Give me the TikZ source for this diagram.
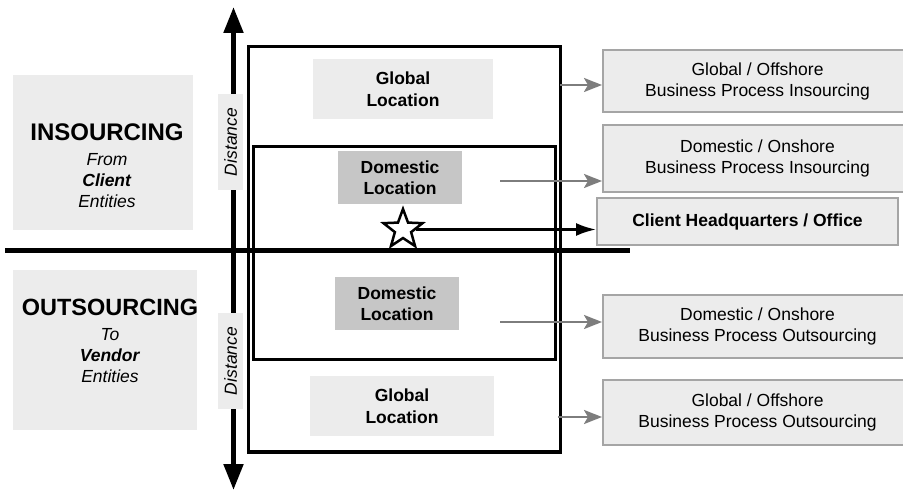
\documentclass[tikz,border=0pt]{standalone}
\usepackage{fontspec}
\setmainfont{Liberation Sans}
\usepackage{tikz}
\definecolor{mylightgray}{RGB}{236,236,236}
\definecolor{mymidgray}{RGB}{198,198,198}
\definecolor{myedgegray}{RGB}{165,165,165}
\definecolor{myarrowgray}{RGB}{125,125,125}
\usetikzlibrary{arrows.meta,shapes.geometric,positioning}

\begin{document}
\begin{tikzpicture}[
  x=1pt, y=-1pt,
  every node/.style={font=\fontsize{17.5}{21}\selectfont},
  sidebox/.style={fill=mylightgray, inner sep=0pt},
  sidetext/.style={align=center, inner sep=0pt},
  locbox/.style={draw, line width=3pt, inner sep=0pt},
  globlabel/.style={
    fill=mylightgray,
    align=center,
    font=\fontsize{17.5}{21.5}\selectfont\bfseries,
    minimum height=60pt
    },
  domlabel/.style={
    fill=mymidgray,
    align=center,
    font=\fontsize{17.5}{21}\selectfont\bfseries,
    minimum width=124pt,
    minimum height=53pt
    },
  distlabel/.style={
    fill=mylightgray,
    rotate=90,
    font=\fontsize{17.5}{21}\selectfont\itshape,
    minimum width=96pt,
    minimum height=25pt,
    inner sep=0pt
    },
  procbox/.style={
    draw=myedgegray,
    line width=2pt,
    fill=mylightgray,
    align=center,
    minimum width=309pt
    },
  greyarrow/.style={draw=myarrowgray, line width=2.5pt,
    -{Stealth[length=18pt,width=14pt,inset=4pt,fill=myarrowgray]}},
  hqarrow/.style={line width=2.5pt, -{Latex[length=20pt,width=13pt]}}
]
\useasboundingbox (0,0) rectangle (903,494);

% left side
\node [sidebox, minimum width=180pt, minimum height=155pt] (inbox) at (103,152.5) {};
\node [sidetext] (intext) at (107,166)
  {{\fontsize{24}{24}\selectfont\bfseries INSOURCING}\\[4pt]
   \textit{From}\\\textbf{\textit{Client}}\\\textit{Entities}};
\node [sidebox, minimum width=184pt, minimum height=160pt] (outbox) at (105,350) {};
\node [sidetext] (outtext) at (110,341)
  {{\fontsize{23.5}{24}\selectfont\bfseries OUTSOURCING}\\[4pt]
   \textit{To}\\\textbf{\textit{Vendor}}\\\textit{Entities}};

% locations
\node [locbox, minimum width=312pt, minimum height=405pt] (outer) at (404,249.5) {};
\node [locbox, minimum width=302pt, minimum height=213pt] (inner) at (404,253.5) {};
\node [globlabel, minimum width=180pt] (globup) at (403,89) {Global\\Location};
\node [domlabel] (domup) at (400,178) {Domestic\\Location};
\node [domlabel] (domlow) at (397,303.5) {Domestic\\Location};
\node [globlabel, minimum width=184pt] (globlow) at (402,406) {Global\\Location};

% axes
\coordinate (hleft) at (5,251);
\coordinate (hright) at (630,251);
\draw [line width=5pt] (hleft) -- (hright);
\coordinate (vtop) at (233.5,7);
\coordinate (vbottom) at (233.5,490);
\draw [line width=5pt,
  {Triangle[length=26pt,width=19pt]}-{Triangle[length=26pt,width=19pt]}]
  (vtop) -- (vbottom);
\node [distlabel] (distup) at (230.5,142) {Distance};
\node [distlabel] (distlow) at (230.5,361) {Distance};

% process boxes
\node [procbox, minimum height=62pt] (gin) at (757.5,81) {Global / Offshore\\Business Process Insourcing};
\node [procbox, minimum height=67pt] (din) at (757.5,158.5) {Domestic / Onshore\\Business Process Insourcing};
\node [procbox, minimum width=301pt, minimum height=47pt,
  font=\fontsize{17.5}{21}\selectfont\bfseries] (hq) at (747.5,221.5) {Client Headquarters / Office};
\node [procbox, minimum height=63pt] (dout) at (757.5,326.5) {Domestic / Onshore\\Business Process Outsourcing};
\node [procbox, minimum height=65pt] (gout) at (757.5,412.5) {Global / Offshore\\Business Process Outsourcing};

% arrows
\coordinate (ginstart) at (560,85);
\coordinate (dinstart) at (500,181);
\coordinate (doutstart) at (500,322);
\coordinate (goutstart) at (558,417);
\draw [greyarrow] (ginstart) -- (ginstart -| gin.west);
\draw [greyarrow] (dinstart) -- (dinstart -| din.west);
\draw [greyarrow] (doutstart) -- (doutstart -| dout.west);
\draw [greyarrow] (goutstart) -- (goutstart -| gout.west);

\node [star, star points=5, star point ratio=2.4, minimum size=41pt, inner sep=0pt,
  draw, line width=2.5pt, fill=white] (star) at (403,229.5) {};
\draw [hqarrow] (star) -- (star -| hq.west);

\end{tikzpicture}
\end{document}
